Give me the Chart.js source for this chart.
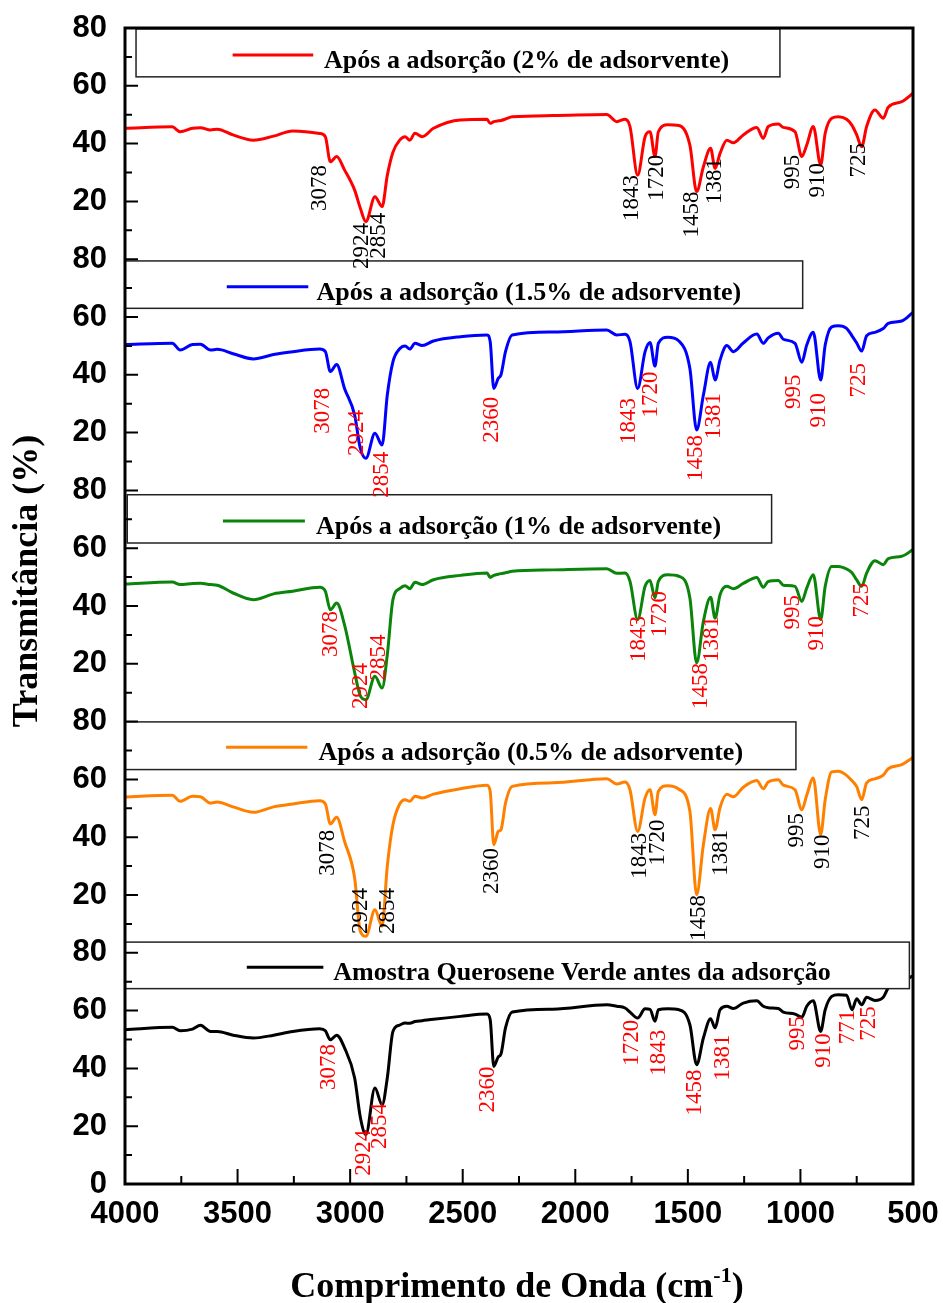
<!DOCTYPE html>
<html>
<head>
<meta charset="utf-8">
<script src="https://cdn.jsdelivr.net/npm/chart.js@4.4.1/dist/chart.umd.min.js"></script>
<style>
html, body { margin: 0; padding: 0; background: #fff; overflow: hidden; }
#wrap { width: 943px; height: 1303px; }
</style>
</head>
<body>
<div id="wrap"><canvas id="ftir"></canvas></div>
<script>
// wavenumber grid (cm-1), shared by all spectra
const wavenumbers = [4000, 3790, 3755, 3700, 3665, 3620, 3590, 3520, 3430, 3340,
  3255, 3135, 3110, 3088, 3060, 3025, 2980, 2955, 2930, 2890,
  2858, 2835, 2810, 2780, 2756, 2735, 2712, 2680, 2630, 2510,
  2392, 2378, 2362, 2342, 2330, 2310, 2280, 2100, 1860, 1816,
  1779, 1757, 1723, 1690, 1668, 1646, 1631, 1590, 1540, 1491,
  1461, 1431, 1399, 1379, 1357, 1327, 1298, 1254, 1194, 1165,
  1143, 1098, 1076, 1024, 994, 972, 943, 910, 890, 861,
  832, 795, 771, 750, 728, 706, 669, 632, 610, 550, 500];

// transmittance (%) of each spectrum
const tRed = [45.3, 45.8, 44.1, 45.3, 45.5, 44.7, 45.0, 43.0, 41.2, 42.6,
  44.4, 43.5, 42.4, 33.7, 35.5, 30.9, 23.9, 17.7, 13.0, 21.6,
  18.2, 29.0, 37.0, 41.2, 42.4, 41.2, 43.6, 42.4, 45.3, 48.2,
  48.4, 47.0, 47.6, 47.9, 48.0, 48.5, 49.3, 49.7, 50.1, 47.6,
  48.4, 45.9, 29.1, 42.4, 44.1, 35.5, 44.1, 46.5, 46.3, 39.5,
  23.4, 32.0, 38.4, 31.4, 36.6, 41.2, 40.3, 43.0, 45.6, 41.8,
  45.9, 46.8, 45.6, 44.1, 35.5, 39.5, 45.9, 32.6, 43.6, 48.8,
  49.3, 48.4, 46.3, 43.0, 38.9, 45.9, 51.6, 48.8, 52.6, 54.5, 57.4];
const tBlue = [50.5, 50.9, 48.6, 50.5, 50.6, 48.6, 48.8, 47.3, 45.5, 47.0,
  48.0, 48.9, 48.0, 41.1, 43.6, 35.3, 26.1, 14.6, 11.1, 19.8,
  15.7, 33.0, 44.5, 49.0, 50.0, 48.9, 50.9, 50.1, 51.7, 53.2,
  53.8, 51.5, 35.3, 38.8, 40.0, 48.0, 53.8, 54.8, 55.5, 53.8,
  54.0, 51.5, 35.3, 48.0, 51.2, 43.0, 50.9, 53.0, 51.7, 42.2,
  20.9, 33.0, 44.3, 38.2, 45.1, 50.1, 48.0, 51.0, 54.1, 50.9,
  52.8, 54.4, 52.3, 50.9, 44.3, 50.3, 54.7, 38.2, 50.3, 56.6,
  57.0, 56.1, 53.5, 51.0, 48.2, 53.5, 54.7, 56.0, 57.8, 58.6, 61.6];
const tGreen = [47.6, 48.3, 47.4, 47.8, 47.9, 47.4, 47.2, 44.5, 42.2, 44.2,
  45.1, 46.5, 45.1, 38.7, 41.0, 33.5, 17.0, 9.0, 7.6, 15.7,
  11.6, 23.1, 42.2, 46.0, 47.0, 46.0, 48.2, 47.4, 49.1, 50.6,
  51.4, 49.9, 50.6, 51.0, 51.2, 51.5, 52.0, 52.5, 52.9, 51.3,
  51.4, 48.5, 35.3, 46.8, 48.8, 42.8, 48.5, 50.8, 50.3, 42.8,
  20.3, 34.7, 43.0, 35.8, 43.9, 46.8, 46.0, 47.8, 49.9, 46.5,
  48.5, 48.8, 47.2, 46.8, 41.6, 46.2, 50.8, 35.3, 46.8, 53.7,
  53.7, 52.8, 51.5, 49.0, 46.8, 51.4, 55.7, 54.3, 56.4, 57.2, 59.5];
const tOrange = [53.9, 54.5, 52.4, 54.2, 54.0, 51.8, 52.2, 50.5, 48.6, 50.5,
  51.5, 52.6, 51.5, 44.6, 46.9, 38.6, 25.9, 7.5, 5.7, 14.9,
  9.2, 30.0, 44.3, 51.5, 53.0, 52.4, 54.2, 53.6, 54.9, 56.8,
  58.0, 55.9, 37.4, 42.0, 42.6, 51.8, 57.6, 58.8, 60.2, 58.4,
  59.1, 56.4, 42.0, 53.6, 56.4, 47.8, 55.9, 57.8, 56.6, 49.0,
  20.1, 37.4, 49.9, 42.6, 50.3, 54.9, 54.0, 57.3, 59.6, 56.8,
  59.1, 59.9, 58.0, 56.4, 49.5, 54.5, 60.5, 40.9, 53.0, 62.6,
  62.8, 61.4, 59.5, 57.5, 53.0, 58.8, 60.2, 61.5, 63.7, 65.1, 67.6];
const tBlack = [53.4, 54.2, 53.0, 53.6, 54.9, 52.8, 52.8, 51.5, 50.5, 51.5,
  52.8, 53.7, 53.0, 49.9, 51.5, 47.1, 36.7, 23.2, 17.1, 33.2,
  27.4, 36.7, 52.8, 55.0, 55.7, 55.6, 56.2, 56.5, 57.0, 58.0,
  58.8, 56.9, 40.7, 44.0, 45.0, 54.0, 59.5, 60.5, 62.0, 61.5,
  60.9, 59.5, 57.4, 60.6, 60.4, 56.3, 60.3, 60.6, 60.3, 55.1,
  41.3, 50.5, 57.2, 54.0, 60.3, 61.5, 60.7, 62.6, 63.4, 61.5,
  61.0, 60.7, 59.5, 58.8, 57.7, 61.5, 63.4, 52.8, 60.3, 64.9,
  65.5, 65.3, 60.3, 64.1, 62.0, 64.6, 63.5, 64.6, 67.8, 70.0, 72.0];

const seriesNames = [
  'Após a adsorção (2% de adsorvente)',
  'Após a adsorção (1.5% de adsorvente)',
  'Após a adsorção (1% de adsorvente)',
  'Após a adsorção (0.5% de adsorvente)',
  'Amostra Querosene Verde antes da adsorção'
];
const seriesValues = [tRed, tBlue, tGreen, tOrange, tBlack];
// each panel is 80 units tall, stacked on one axis
const panelOffsets = [320, 240, 160, 80, 0];
const colors = ['#ff0000', '#0000ff', '#0a840a', '#ff8000', '#000000'];

const SERIF = '"Liberation Serif", "Times New Roman", serif';
const SANS = '"Liberation Sans", Arial, sans-serif';

// legend boxes, in data units (wavenumber, stacked value)
const legendBoxes = [
  { from: 3951, to: 1091, top: 399.7, bottom: 383.1, line: [3522, 3164], lineAt: 390.7, textAt: 3116 },
  { from: 4000, to: 990,  top: 319.4, bottom: 303.0, line: [3548, 3186], lineAt: 310.5, textAt: 3149 },
  { from: 3990, to: 1128, top: 238.5, bottom: 221.8, line: [3565, 3201], lineAt: 229.4, textAt: 3152 },
  { from: 4000, to: 1020, top: 159.9, bottom: 143.4, line: [3551, 3190], lineAt: 151.1, textAt: 3141 },
  { from: 4000, to: 516,  top: 83.7,  bottom: 67.6,  line: [3459, 3119], lineAt: 75.0,  textAt: 3075 }
];

// peak labels: [wavenumber, local value of the label's upper end, text]
const peakLabels = [
  { color: '#000', items: [[3134, 32.6, '3078'], [2946, 12.5, '2924'], [2872, 16.1, '2854'], [1749, 29.1, '1843'],
    [1638, 36.1, '1720'], [1483, 23.4, '1458'], [1381, 35.0, '1381'], [1032, 36.1, '995'], [921, 33.3, '910'], [739, 40.2, '725']] },
  { color: '#ff0000', items: [[3119, 35.5, '3078'], [2971, 27.8, '2924'], [2860, 13.4, '2854'], [2371, 32.4, '2360'],
    [1761, 32.0, '1843'], [1665, 41.1, '1720'], [1465, 19.2, '1458'], [1384, 33.7, '1381'], [1029, 40.1, '995'],
    [918, 33.7, '910'], [740, 44.1, '725']] },
  { color: '#ff0000', items: [[3086, 38.3, '3078'], [2953, 20.3, '2924'], [2872, 30.1, '2854'], [1718, 36.5, '1843'],
    [1624, 45.2, '1720'], [1443, 20.3, '1458'], [1392, 36.5, '1381'], [1032, 43.8, '995'], [928, 36.5, '910'], [727, 48.0, '725']] },
  { color: '#000', items: [[3097, 42.6, '3078'], [2953, 22.4, '2924'], [2831, 22.4, '2854'], [2371, 36.3, '2360'],
    [1713, 41.5, '1843'], [1631, 46.1, '1720'], [1452, 20.0, '1458'], [1354, 42.6, '1381'], [1014, 48.4, '995'],
    [901, 40.9, '910'], [721, 51.0, '725']] },
  { color: '#ff0000', items: [[3094, 48.4, '3078'], [2938, 18.8, '2924'], [2867, 28.0, '2854'], [2386, 40.7, '2360'],
    [1748, 56.8, '1720'], [1628, 53.4, '1843'], [1468, 39.6, '1458'], [1343, 51.7, '1381'], [1009, 58.1, '995'],
    [897, 52.2, '910'], [789, 60.3, '771'], [697, 61.5, '725']] }
];

const datasets = seriesValues.map((vals, i) => ({
  label: seriesNames[i],
  data: wavenumbers.map((w, j) => ({ x: w, y: vals[j] + panelOffsets[i] })),
  borderColor: colors[i],
  borderWidth: 3,
  pointRadius: 0,
  fill: false,
  cubicInterpolationMode: 'monotone'
}));

// keep the plot area where the original has it
function noPad(s) {
  s.paddingLeft = 0;
  s.paddingRight = 0;
  s.paddingTop = 0;
  s.paddingBottom = 0;
}

const ftirDecor = {
  id: 'ftirDecor',
  afterDatasetsDraw(chart) {
    const { ctx, chartArea: a, scales: { x, y } } = chart;
    ctx.save();

    // legend boxes (opaque, they hide what runs under them)
    legendBoxes.forEach((b, i) => {
      const l = x.getPixelForValue(b.from), r = x.getPixelForValue(b.to);
      const t = y.getPixelForValue(b.top), bt = y.getPixelForValue(b.bottom);
      ctx.fillStyle = '#fff';
      ctx.fillRect(l, t, r - l, bt - t);
      ctx.strokeStyle = '#222';
      ctx.lineWidth = 1.5;
      ctx.strokeRect(l, t, r - l, bt - t);
      const ly = y.getPixelForValue(b.lineAt);
      ctx.strokeStyle = colors[i];
      ctx.lineWidth = 3;
      ctx.beginPath();
      ctx.moveTo(x.getPixelForValue(b.line[0]), ly);
      ctx.lineTo(x.getPixelForValue(b.line[1]), ly);
      ctx.stroke();
      ctx.fillStyle = '#000';
      ctx.font = 'bold 26px ' + SERIF;
      ctx.textAlign = 'left';
      ctx.textBaseline = 'alphabetic';
      ctx.fillText(seriesNames[i], x.getPixelForValue(b.textAt), ly + 13);
    });

    // rotated peak labels
    ctx.font = '23px ' + SERIF;
    peakLabels.forEach((g, i) => {
      ctx.fillStyle = g.color;
      g.items.forEach(([w, v, txt]) => {
        ctx.save();
        ctx.translate(x.getPixelForValue(w), y.getPixelForValue(v + panelOffsets[i]));
        ctx.rotate(-Math.PI / 2);
        ctx.textAlign = 'right';
        ctx.textBaseline = 'middle';
        ctx.fillText(txt, 0, 0);
        ctx.restore();
      });
    });

    // inward ticks
    ctx.strokeStyle = '#000';
    ctx.lineWidth = 2;
    ctx.beginPath();
    for (let v = 10; v < 400; v += 10) {
      const py = y.getPixelForValue(v);
      ctx.moveTo(a.left, py);
      ctx.lineTo(a.left + (v % 20 === 0 ? 13 : 7), py);
    }
    for (let w = 750; w < 4000; w += 250) {
      const px = x.getPixelForValue(w);
      ctx.moveTo(px, a.bottom);
      ctx.lineTo(px, a.bottom - (w % 500 === 0 ? 15 : 8));
    }
    ctx.stroke();

    // frame
    ctx.lineWidth = 3;
    ctx.strokeRect(a.left, a.top, a.right - a.left, a.bottom - a.top);
    ctx.restore();
  },
  afterDraw(chart) {
    const { ctx, chartArea: a } = chart;
    ctx.save();
    ctx.fillStyle = '#000';
    // y title
    ctx.font = 'bold 36px ' + SERIF;
    ctx.translate(28, 581);
    ctx.rotate(-Math.PI / 2);
    ctx.textAlign = 'center';
    ctx.textBaseline = 'middle';
    ctx.fillText('Transmitância (%)', 0, 0);
    ctx.restore();

    // x title with superscript
    ctx.save();
    ctx.fillStyle = '#000';
    ctx.textBaseline = 'alphabetic';
    ctx.textAlign = 'left';
    const main = 'Comprimento de Onda (cm', sup = '-1', close = ')';
    const big = 'bold 36px ' + SERIF, small = 'bold 22px ' + SERIF;
    ctx.font = big;
    const w1 = ctx.measureText(main).width, w3 = ctx.measureText(close).width;
    ctx.font = small;
    const w2 = ctx.measureText(sup).width;
    let px = (a.left + a.right) / 2 - 2 - (w1 + w2 + w3) / 2;
    const base = 1297;
    ctx.font = big;
    ctx.fillText(main, px, base);
    px += w1;
    ctx.font = small;
    ctx.fillText(sup, px, base - 15);
    px += w2;
    ctx.font = big;
    ctx.fillText(close, px, base);
    ctx.restore();
  }
};

new Chart(document.getElementById('ftir'), {
  type: 'line',
  data: { datasets },
  options: {
    responsive: true,
    maintainAspectRatio: false,
    animation: false,
    layout: { padding: { top: 28, right: 30, left: 0, bottom: 0 } },
    plugins: { legend: { display: false }, tooltip: { enabled: false } },
    scales: {
      x: {
        type: 'linear',
        reverse: true,
        min: 500,
        max: 4000,
        afterFit: (s) => { s.height = 119; noPad(s); },
        grid: { display: false, drawTicks: false },
        border: { display: false },
        ticks: {
          stepSize: 500,
          padding: 12,
          color: '#000',
          font: { family: SANS, size: 31, weight: 'bold' },
          callback: (v) => String(v)
        }
      },
      y: {
        min: 0,
        max: 400,
        afterFit: (s) => { s.width = 125; noPad(s); },
        grid: { display: false, drawTicks: false },
        border: { display: false },
        ticks: {
          stepSize: 20,
          padding: 18,
          color: '#000',
          font: { family: SANS, size: 31, weight: 'bold' },
          callback: (v) => (v === 0 ? '0' : String(v % 80 === 0 ? 80 : v % 80))
        }
      }
    }
  },
  plugins: [ftirDecor]
});
</script>
</body>
</html>
